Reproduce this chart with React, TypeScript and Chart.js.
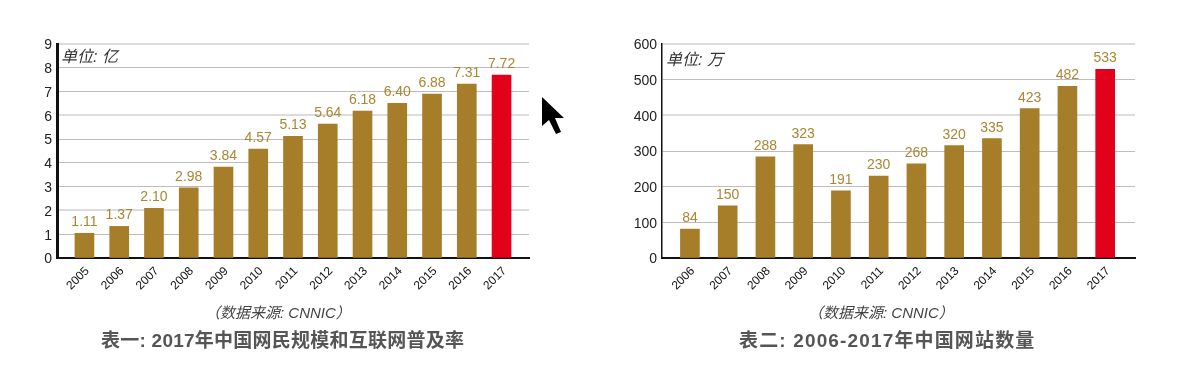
import React, { useEffect, useRef } from "react";
import { Chart, registerables } from "chart.js";

Chart.register(...registerables);

const yearsA = ["2005","2006","2007","2008","2009","2010","2011","2012","2013","2014","2015","2016","2017"];
const valuesA = [1.04,1.33,2.09,2.95,3.82,4.58,5.12,5.63,6.18,6.51,6.89,7.31,7.69];
const labelsA = ["1.11","1.37","2.10","2.98","3.84","4.57","5.13","5.64","6.18","6.40","6.88","7.31","7.72"];
const ticksA = [0,1,2,3,4,5,6,7,8,9];
const softA = [9,6,2];

const yearsB = ["2006","2007","2008","2009","2010","2011","2012","2013","2014","2015","2016","2017"];
const valuesB = [81,146,284,318,188,230,264,315,335,419,481,529];
const labelsB = ["84","150","288","323","191","230","268","320","335","423","482","533"];
const ticksB = [0,100,200,300,400,500,600];
const softB = [600,400];

const GOLD = "#a67d28";
const LABEL = "#ab8533";
const RED = "#e2001a";
const LATIN = '"Liberation Sans", Arial, sans-serif';
const CJK = '"Liberation Sans", "Noto Sans CJK SC", sans-serif';

type PanelProps = {
  left: number; width: number; axisX: number; endX: number;
  years: string[]; values: number[]; labels: string[]; ticks: number[]; soft: number[];
  xMin: number; xMax: number; yMax: number; axisWidth: number;
};

function Panel(p: PanelProps) {
  const ref = useRef<HTMLCanvasElement | null>(null);
  useEffect(() => {
    const valueLabels = {
      id: "valueLabels",
      afterDatasetsDraw(chart: any) {
        const { ctx } = chart;
        const bars = chart.getDatasetMeta(0).data;
        ctx.save();
        ctx.font = `14px ${LATIN}`;
        ctx.fillStyle = LABEL;
        ctx.textAlign = "center";
        ctx.textBaseline = "alphabetic";
        bars.forEach((b: any, i: number) => ctx.fillText(p.labels[i], b.x, b.y - 7));
        ctx.restore();
      },
    };
    const chart = new Chart(ref.current as HTMLCanvasElement, {
      type: "bar",
      data: {
        datasets: [{
          data: p.values.map((y, i) => ({ x: i, y })),
          backgroundColor: p.values.map((_, i) => (i === p.values.length - 1 ? RED : GOLD)),
          barThickness: 19,
        }],
      },
      options: {
        animation: false,
        responsive: false,
        layout: { padding: { top: 44, right: p.width - p.endX, left: 0, bottom: 0 } },
        plugins: { legend: { display: false }, tooltip: { enabled: false }, title: { display: false } },
        scales: {
          x: {
            type: "linear",
            offset: false,
            min: p.xMin,
            max: p.xMax,
            grid: { display: false },
            border: { color: "#111", width: 2 },
            afterFit: (s: any) => { s.height = 120; },
            afterBuildTicks: (s: any) => { s.ticks = p.years.map((_, i) => ({ value: i })); },
            ticks: {
              autoSkip: false,
              minRotation: 45,
              maxRotation: 45,
              padding: -2,
              labelOffset: 3,
              color: "#111",
              font: { family: LATIN, size: 12 },
              callback: (v: any) => p.years[v],
            },
          },
          y: {
            min: 0,
            max: p.yMax,
            grid: {
              color: (c: any) => (p.soft.includes(c.tick?.value) ? "#dcdcdc" : "#bdbdbd"),
              lineWidth: (c: any) => (p.soft.includes(c.tick?.value) ? 2 : 1),
              drawTicks: false,
            },
            border: { color: "#111", width: p.axisWidth },
            afterFit: (s: any) => { s.width = p.axisX; },
            afterBuildTicks: (s: any) => { s.ticks = p.ticks.map((value) => ({ value })); },
            ticks: { padding: 5, labelOffset: 1.5, color: "#222", font: { family: LATIN, size: 14 } },
          },
        },
      },
      plugins: [valueLabels],
    } as any);
    return () => chart.destroy();
  }, []);
  return (
    <canvas
      ref={ref}
      width={p.width}
      height={378}
      style={{ position: "absolute", left: p.left, top: 0, width: p.width, height: 378 }}
    />
  );
}

function Text(props: { x: number; y: number; size: number; color: string; italic?: boolean; bold?: boolean; spacing?: number; children: string }) {
  return (
    <div
      style={{
        position: "absolute", left: props.x, top: props.y, whiteSpace: "nowrap", lineHeight: "20px",
        fontFamily: CJK, fontSize: props.size, color: props.color, letterSpacing: props.spacing ?? 0,
        fontStyle: props.italic ? "italic" : "normal", fontWeight: props.bold ? 700 : 400,
      }}
    >
      {props.children}
    </div>
  );
}

export default function App() {
  return (
    <div style={{ position: "absolute", left: 0, top: 0, width: 1200, height: 378, overflow: "hidden", background: "#fff" }}>
      <Panel left={0} width={600} axisX={57} endX={529} years={yearsA} values={valuesA} labels={labelsA} ticks={ticksA} soft={softA}
        xMin={-0.79} xMax={12.79} yMax={9} axisWidth={3} />
      <Panel left={600} width={600} axisX={62} endX={535} years={yearsB} values={valuesB} labels={labelsB} ticks={ticksB} soft={softB}
        xMin={-0.74} xMax={11.79} yMax={600} axisWidth={1.5} />
      <Text x={61} y={47} size={16} color="#333" italic>单位: 亿</Text>
      <Text x={666} y={50} size={16} color="#333" italic>单位: 万</Text>
      <Text x={205} y={303} size={15} color="#444" italic>（数据来源: CNNIC）</Text>
      <Text x={808} y={303} size={15} color="#444" italic>（数据来源: CNNIC）</Text>
      <Text x={101} y={331} size={19} color="#555" bold spacing={0.25}>表一: 2017年中国网民规模和互联网普及率</Text>
      <Text x={739} y={331} size={19} color="#555" bold spacing={1.15}>表二: 2006-2017年中国网站数量</Text>
      <svg width={30} height={46} viewBox="0 0 30 46" style={{ position: "absolute", left: 538, top: 93, filter: "blur(0.6px)" }}>
        <polygon points="4,4 4,33 11,27 18,41 23,39 17,25 26,25" fill="#000" />
      </svg>
    </div>
  );
}
